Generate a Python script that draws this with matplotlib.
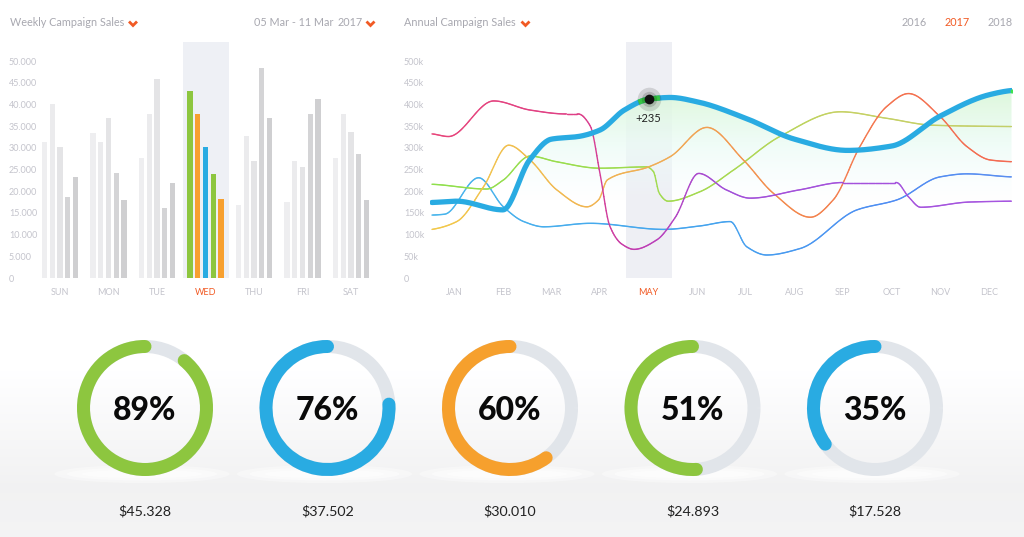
import numpy as np
import matplotlib
matplotlib.use('Agg')
import matplotlib.pyplot as plt
from matplotlib.collections import LineCollection
from matplotlib.colors import LinearSegmentedColormap, Normalize
from matplotlib.patches import Arc, Ellipse
from matplotlib.path import Path

plt.rcParams['font.family'] = ['Lato', 'DejaVu Sans']

W, H = 1024, 537

# weekly campaign sales (5 bars per day)
days = ['SUN', 'MON', 'TUE', 'WED', 'THU', 'FRI', 'SAT']
sales_1 = [31300, 33300, 27600, 43200, 16900, 17400, 27600]
sales_2 = [40100, 31300, 37800, 37800, 32800, 26900, 37800]
sales_3 = [30300, 36900, 45800, 30300, 26900, 25600, 33600]
sales_4 = [18600, 24100, 16100, 24000, 48400, 37800, 28600]
sales_5 = [23300, 17900, 21900, 18100, 36900, 41300, 17900]
week_ticks = [0, 5000, 10000, 15000, 20000, 25000, 30000, 35000, 40000, 45000, 50000]
week_labels = ['0', '5.000', '10.000', '15.000', '20.000', '25.000', '30.000',
               '35.000', '40.000', '45.000', '50.000']

# annual campaign sales, month index (JAN = 0), values in k
months = ['JAN', 'FEB', 'MAR', 'APR', 'MAY', 'JUN', 'JUL', 'AUG', 'SEP', 'OCT', 'NOV', 'DEC']
main_x = [-0.46, 0.05, 1.0, 1.55, 2.0, 2.55, 3.0, 3.5, 4.0, 4.45, 5.0, 6.0, 7.0, 8.1, 9.0, 10.0, 11.0, 11.47]
main_y = [174, 177, 157, 272, 320, 326, 341, 387, 412, 416, 406, 368, 320, 294, 304, 373, 422, 432]
pink_x = [-0.46, -0.12, 0.81, 1.56, 2.3, 2.55, 2.8, 3.0, 3.2, 3.45, 3.7, 4.17, 4.55, 5.03, 5.6, 6.09, 7.1, 8.0, 9.1, 9.35, 9.6, 10.6, 11.47]
pink_y = [332, 326, 408, 387, 378, 378, 350, 240, 120, 78, 66, 88, 140, 241, 203, 184, 203, 220, 220, 187, 163, 175, 177]
orange_x = [-0.46, 0.05, 0.6, 1.12, 1.56, 2.11, 2.73, 2.97, 3.15, 4.0, 4.45, 5.2, 5.95, 6.57, 7.33, 7.8, 8.35, 8.9, 9.35, 10.0, 10.55, 11.03, 11.47]
orange_y = [112, 130, 210, 306, 272, 203, 164, 180, 226, 256, 280, 347, 272, 195, 140, 180, 303, 395, 425, 372, 303, 272, 268]
green_x = [-0.46, 0.67, 1.0, 1.56, 2.1, 3.0, 3.96, 4.1, 4.22, 4.4, 5.06, 5.75, 6.7, 7.95, 8.9, 9.86, 11.47]
green_y = [216, 205, 225, 281, 268, 253, 256, 245, 195, 177, 199, 249, 326, 383, 368, 352, 349]
sky_x = [-0.46, -0.2, 0.5, 1.01, 1.43, 1.84, 2.8, 4.31, 5.06, 5.68, 6.02, 6.43, 7.12, 8.29, 9.11, 10.0, 10.55, 11.47]
sky_y = [145, 147, 231, 164, 130, 118, 126, 112, 120, 130, 72, 53, 68, 157, 180, 233, 240, 233]
year_ticks = [0, 50, 100, 150, 200, 250, 300, 350, 400, 450, 500]
year_labels = ['0'] + ['%dk' % v for v in year_ticks[1:]]

# donuts
donut_pct = [89, 76, 60, 51, 35]
donut_money = ['$45.328', '$37.502', '$30.010', '$24.893', '$17.528']

GREEN, BLUE, ORANGE = '#8dc63f', '#29abe2', '#f6a02d'
RED = '#f15a24'
AXTXT = '#c4c4cc'


def smooth(x, y, n=500):
    # monotone cubic (Fritsch-Carlson) through the read points
    x = np.asarray(x, float)
    y = np.asarray(y, float)
    h = np.diff(x)
    d = np.diff(y) / h
    m = np.zeros_like(y)
    for k in range(1, len(x) - 1):
        if d[k - 1] * d[k] > 0:
            w1, w2 = 2 * h[k] + h[k - 1], h[k] + 2 * h[k - 1]
            m[k] = (w1 + w2) / (w1 / d[k - 1] + w2 / d[k])
    m[0], m[-1] = d[0] * 0.5, d[-1] * 0.5
    xs = np.linspace(x[0], x[-1], n)
    i = np.clip(np.searchsorted(x, xs) - 1, 0, len(h) - 1)
    t = (xs - x[i]) / h[i]
    ys = ((2 * t**3 - 3 * t**2 + 1) * y[i] + (t**3 - 2 * t**2 + t) * h[i] * m[i]
          + (-2 * t**3 + 3 * t**2) * y[i + 1] + (t**3 - t**2) * h[i] * m[i + 1])
    return xs, ys


def grad_line(ax, x, y, stops, lw=1.0, z=3):
    xs, ys = smooth(x, y)
    pts = np.column_stack([xs, ys]).reshape(-1, 1, 2)
    segs = np.concatenate([pts[:-1], pts[1:]], axis=1)
    cmap = LinearSegmentedColormap.from_list('g', stops)
    lc = LineCollection(segs, cmap=cmap, norm=Normalize(xs[0], xs[-1]),
                        linewidths=lw, capstyle='round', zorder=z)
    lc.set_array((xs[:-1] + xs[1:]) / 2)
    ax.add_collection(lc)


fig = plt.figure(figsize=(W / 100, H / 100), dpi=100)

# background
bg = fig.add_axes([0, 0, 1, 1], zorder=-10)
rows = np.arange(H)
shade = np.interp(rows, [0, 370, 485, H], [1.0, 1.0, 0.948, 0.955])
bg.imshow(np.dstack([shade, shade, shade * 1.003]).reshape(H, 1, 3).clip(0, 1),
          extent=[0, 1, 0, 1], aspect='auto')
bg.axis('off')

# ---- weekly bars ----
ax1 = fig.add_axes([38 / W, (H - 278) / H, 342 / W, 236 / H])
ax1.set_facecolor('none')
gx = np.arange(len(days))
ax1.axvspan(2.53, 3.48, color='#eef0f5', zorder=0, lw=0)
grays = ['#eeeef0', '#ebebed', '#e4e4e6', '#d4d4d6', '#cfcfd1']
wed = [GREEN, '#f7a030', BLUE, GREEN, '#f7a030']
for k, s in enumerate([sales_1, sales_2, sales_3, sales_4, sales_5]):
    cols = [wed[k] if d == 3 else grays[k] for d in range(len(days))]
    ax1.bar(gx + (k - 2) * 0.16, s, width=0.105, color=cols, zorder=2)
ax1.set_xlim(-0.454, 6.598)
ax1.set_ylim(0, 54380)
ax1.set_xticks(gx, days)
ax1.set_yticks(week_ticks, week_labels)
ax1.tick_params(length=0, labelsize=6.5, labelcolor=AXTXT)
ax1.tick_params(axis='x', pad=7)
ax1.tick_params(axis='y', pad=21)
for lab in ax1.get_yticklabels():
    lab.set_horizontalalignment('left')
ax1.get_xticklabels()[3].set_color(RED)
for sp in ax1.spines.values():
    sp.set_visible(False)

# ---- annual lines ----
ax2 = fig.add_axes([430 / W, (H - 278) / H, 582 / W, 236 / H])
ax2.set_facecolor('none')
x0, x1 = (430 - 454.3) / 48.58, (1012 - 454.3) / 48.58
ax2.axvspan(3.534, 4.481, color='#eeeff4', zorder=0, lw=0)

mx, my = smooth(main_x, main_y)
poly = ax2.fill_between(mx, my, 180, where=my > 180, interpolate=True,
                        facecolor='none', edgecolor='none')
fill_cmap = LinearSegmentedColormap.from_list(
    'f', [(0.94, 0.99, 1.0, 0.0), (0.92, 0.985, 0.96, 0.75), (0.85, 0.965, 0.84, 0.9)])
im = ax2.imshow(np.linspace(0, 1, 256)[:, None], extent=[x0, x1, 180, 440], origin='lower',
                cmap=fill_cmap, aspect='auto', zorder=1)
im.set_clip_path(Path.make_compound_path(*poly.get_paths()), transform=ax2.transData)

grad_line(ax2, sky_x, sky_y, [(0, '#48b5ec'), (0.5, '#44a2ee'), (0.8, '#4f8cf3'), (1, '#5a8ef0')])
grad_line(ax2, green_x, green_y, [(0, '#8fe04c'), (0.5, '#a6d94f'), (0.7, '#c6d163'), (1, '#c3cf69')])
grad_line(ax2, orange_x, orange_y, [(0, '#f2c94a'), (0.4, '#f0ac55'), (0.6, '#f38a4c'),
                                    (0.8, '#f4724f'), (1, '#f36a52')])
grad_line(ax2, pink_x, pink_y, [(0, '#e8457a'), (0.25, '#df3f86'), (0.35, '#c23ab0'),
                                (0.5, '#a24fd8'), (1, '#a655e0')])
ax2.plot(mx, my, color=BLUE, lw=3.8, solid_capstyle='round', zorder=5)
hi = (mx > 3.83) & (mx < 4.2)
ax2.plot(mx[hi], my[hi], color='#3fe24f', lw=3.8, zorder=6)
may_val = np.interp(4.0, mx, my)
ax2.plot(4.0, may_val, 'o', ms=17, color='#000000', alpha=0.13, mew=0, zorder=7)
ax2.plot(4.0, may_val, 'o', ms=11, color='#000000', alpha=0.15, mew=0, zorder=7)
ax2.plot(4.0, may_val, 'o', ms=7, color='#111111', mew=0, zorder=8)
ax2.plot(mx[-1], my[-1], 'o', ms=3, color='#3fe24f', mew=0, zorder=8)
ax2.text(4.0, may_val - 44, '+235', ha='center', va='center', fontsize=8, color='#222222', zorder=8)

ax2.set_xlim(x0, x1)
ax2.set_ylim(0, 543.8)
ax2.set_xticks(np.arange(12), months)
ax2.set_yticks(year_ticks, year_labels)
ax2.tick_params(length=0, labelsize=6.5, labelcolor=AXTXT)
ax2.tick_params(axis='x', pad=7)
ax2.tick_params(axis='y', pad=18.7)
for lab in ax2.get_yticklabels():
    lab.set_horizontalalignment('left')
ax2.get_xticklabels()[4].set_color(RED)
for sp in ax2.spines.values():
    sp.set_visible(False)

# ---- overlay: headers and donuts (pixel coordinates, y up) ----
ov = fig.add_axes([0, 0, 1, 1], zorder=5)
ov.set_xlim(0, W)
ov.set_ylim(0, H)
ov.axis('off')
ov.patch.set_alpha(0)

hdr = dict(fontsize=7.8, color='#a8a8b0', va='center')
ty = H - 23
ov.text(10, ty, 'Weekly Campaign Sales', **hdr)
ov.text(254, ty, '05 Mar - 11 Mar', **hdr)
ov.text(338, ty, '2017', **hdr)
ov.text(404, ty, 'Annual Campaign Sales', **hdr)
ov.text(902, ty, '2016', **hdr)
ov.text(945, ty, '2017', **dict(hdr, color=RED))
ov.text(988, ty, '2018', **hdr)
for cx in [133, 370.5, 525.5]:
    ov.plot([cx - 4, cx, cx + 4], [ty + 1.5, ty - 2.5, ty + 1.5], color=RED, lw=2.0,
            solid_joinstyle='miter', solid_capstyle='butt')

ring_cols = [GREEN, BLUE, ORANGE, GREEN, BLUE]
lw = 13 * 72 / 100
for i, (p, money) in enumerate(zip(donut_pct, donut_money)):
    cx, cy = 145 + 182.5 * i, H - 408
    for ew, eh, a in [(175, 18, 0.35), (150, 13, 0.45), (120, 8, 0.6)]:
        ov.add_patch(Ellipse((cx - 3, H - 474), ew, eh, color='white', alpha=a, lw=0))
    ov.add_patch(Arc((cx, cy), 123, 123, theta1=0, theta2=360, color='#e1e5ea', lw=lw))
    arc = Arc((cx, cy), 123, 123, theta1=90, theta2=90 + 3.6 * p, color=ring_cols[i], lw=lw)
    arc.set_capstyle('round')
    ov.add_patch(arc)
    ov.text(cx, cy, '%d%%' % p, ha='center', va='center_baseline', fontsize=23,
            fontweight='black', color='#0a0a0a')
    ov.text(cx, H - 511, money, ha='center', va='center', fontsize=10.3, color='#222222')

fig.savefig('out.png', dpi=100)
